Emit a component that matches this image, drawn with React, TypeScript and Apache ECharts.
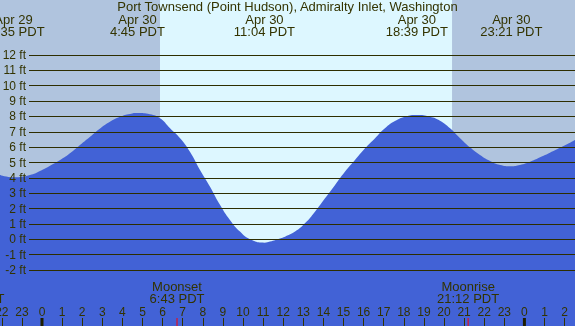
import React, { useEffect, useRef } from "react";
import * as echarts from "echarts";

// Hours relative to Apr 30 00:00 PDT, tide height in feet
const tideHours = [
  -2.09, -1.42, -0.6, -0.1, 0.4, 0.9, 1.39, 1.89, 2.39, 2.89, 3.38, 3.88, 4.38, 4.75,
  5.37, 5.87, 6.37, 6.87, 7.36, 7.86, 8.36, 8.86, 9.35, 9.85, 10.35, 11.07, 11.34,
  11.84, 12.09, 12.59, 13.08, 13.58, 14.08, 14.58, 15.07, 15.57, 16.07, 16.57, 17.06,
  17.56, 18.06, 18.65, 19.3, 19.8, 20.3, 20.8, 21.29, 21.79, 22.29, 22.79, 23.35,
  23.78, 24.28, 24.78, 25.27, 25.77, 26.27, 26.52,
];
const tideFeet = [
  4.19, 4.04, 4.19, 4.45, 4.79, 5.16, 5.6, 6.14, 6.68, 7.22, 7.66, 7.98, 8.16, 8.22,
  8.14, 7.88, 7.23, 6.58, 5.7, 4.51, 3.42, 2.23, 1.26, 0.5, 0.0, -0.22, -0.15,
  0.06, 0.17, 0.5, 1.04, 1.8, 2.67, 3.54, 4.4, 5.16, 5.92, 6.58, 7.23,
  7.7, 7.98, 8.09, 7.98, 7.72, 7.23, 6.58, 5.99, 5.49, 5.1, 4.84, 4.76,
  4.84, 5.05, 5.34, 5.64, 5.96, 6.29, 6.46,
];

const tideEventHours = [-1.4167, 4.75, 11.067, 18.65, 23.35];
const tideEventDates = ["Apr 29", "Apr 30", "Apr 30", "Apr 30", "Apr 30"];
const tideEventTimes = ["22:35 PDT", "4:45 PDT", "11:04 PDT", "18:39 PDT", "23:21 PDT"];

const moonEventHours = [-3.417, 6.717, 21.2];
const moonEventNames = ["Moonrise", "Moonset", "Moonrise"];
const moonEventTimes = ["20:35 PDT", "6:43 PDT", "21:12 PDT"];

const sunriseSunset = [5.87, 20.4];
const midnightHours = [0, 24];

const viewHours = [-2.0896, 26.517];
const viewFeet = [-5.645, 15.58];
const gridFeet = [-2, 12];
const hourTicks = [-2, 26];

const TITLE = "Port Townsend (Point Hudson), Admiralty Inlet, Washington";

const TEXT = "#333300";
const FAMILY = '"Liberation Sans", Arial, sans-serif';
const FONT13 = `13px ${FAMILY}`;

export default function App() {
  const ref = useRef<HTMLDivElement>(null);
  useEffect(() => {
    if (!ref.current) return;
    const chart = echarts.init(ref.current, null, { renderer: "svg" });
    const option: any = {
      animation: false,
      title: {
        text: TITLE,
        left: "center",
        top: 0,
        padding: 0,
        textStyle: {
          fontFamily: FAMILY,
          fontSize: 13,
          fontWeight: "normal",
          color: TEXT,
        },
      },
      grid: [
        {
          left: 0, right: 0, top: 0, bottom: 0, show: true,
          backgroundColor: "#b0c4de", borderWidth: 0, outerBoundsMode: "none",
        },
        { left: 29, right: 0, top: 55, bottom: 56, outerBoundsMode: "none" },
        { left: 1.8, right: 10.4, top: 0, bottom: 0, outerBoundsMode: "none" },
      ],
      xAxis: [
        { type: "value", gridIndex: 0, min: viewHours[0], max: viewHours[1], show: false },
        { type: "value", gridIndex: 1, min: 0, max: 1, show: false },
        {
          type: "value",
          gridIndex: 2,
          min: hourTicks[0],
          max: hourTicks[1],
          interval: 1,
          z: 6,
          axisLine: { show: false },
          splitLine: { show: false },
          axisTick: { show: true, inside: true, length: 8, lineStyle: { color: TEXT, width: 1 } },
          axisLabel: {
            inside: true,
            margin: 8,
            color: TEXT,
            fontSize: 12,
            fontFamily: FAMILY,
            showMinLabel: true,
            showMaxLabel: true,
            hideOverlap: false,
            formatter: (v: number) => String(((v % 24) + 24) % 24),
          },
        },
      ],
      yAxis: [
        { type: "value", gridIndex: 0, min: viewFeet[0], max: viewFeet[1], show: false },
        {
          type: "value",
          gridIndex: 1,
          min: gridFeet[0],
          max: gridFeet[1],
          interval: 1,
          z: 5,
          axisLine: { show: false },
          axisTick: { show: false },
          splitLine: { show: true, lineStyle: { color: "#2e2e00", width: 1 } },
          axisLabel: {
            margin: 3,
            color: TEXT,
            fontSize: 12,
            fontFamily: FAMILY,
            formatter: (v: number) => `${v} ft`,
          },
        },
        { type: "value", gridIndex: 2, min: 0, max: 1, show: false },
      ],
      series: [
        {
          type: "custom",
          xAxisIndex: 0,
          yAxisIndex: 0,
          z: 0,
          data: [[sunriseSunset[0], sunriseSunset[1]]],
          renderItem: (params: any, api: any) => {
            const x1 = api.coord([api.value(0), 0])[0];
            const x2 = api.coord([api.value(1), 0])[0];
            const cs = params.coordSys;
            return {
              type: "rect",
              shape: { x: x1, y: cs.y, width: x2 - x1, height: cs.height },
              style: { fill: "#ddf7ff" },
            };
          },
        },
        {
          type: "line",
          xAxisIndex: 0,
          yAxisIndex: 0,
          z: 2,
          smooth: true,
          showSymbol: false,
          lineStyle: { width: 0 },
          areaStyle: { color: "#4262d6", opacity: 1, origin: "start" },
          data: tideHours.map((h, i) => [h, tideFeet[i]]),
        },
        {
          type: "custom",
          xAxisIndex: 0,
          yAxisIndex: 0,
          z: 8,
          data: tideEventHours.map((h) => [h, 0]),
          renderItem: (params: any, api: any) => {
            const i = params.dataIndex;
            const x = api.coord([api.value(0), 0])[0];
            return {
              type: "text",
              x,
              y: 13,
              style: {
                text: `${tideEventDates[i]}\n${tideEventTimes[i]}`,
                align: "center",
                verticalAlign: "top",
                lineHeight: 12,
                font: FONT13,
                fill: TEXT,
              },
            };
          },
        },
        {
          type: "custom",
          xAxisIndex: 0,
          yAxisIndex: 0,
          z: 8,
          data: moonEventHours.map((h) => [h, 0]),
          renderItem: (params: any, api: any) => {
            const i = params.dataIndex;
            const x = api.coord([api.value(0), 0])[0];
            const cs = params.coordSys;
            return {
              type: "group",
              children: [
                {
                  type: "text",
                  x,
                  y: 280,
                  style: {
                    text: `${moonEventNames[i]}\n${moonEventTimes[i]}`,
                    align: "center",
                    verticalAlign: "top",
                    lineHeight: 12,
                    font: FONT13,
                    fill: TEXT,
                  },
                },
                {
                  type: "rect",
                  shape: { x: x - 0.5, y: cs.y + cs.height - 8, width: 1, height: 8 },
                  style: { fill: "#ff0000" },
                },
              ],
            };
          },
        },
        {
          type: "custom",
          xAxisIndex: 0,
          yAxisIndex: 0,
          z: 9,
          data: midnightHours.map((h) => [h, 0]),
          renderItem: (params: any, api: any) => {
            const x = api.coord([api.value(0), 0])[0];
            const cs = params.coordSys;
            return {
              type: "rect",
              shape: { x: x - 1.5, y: cs.y + cs.height - 8, width: 3, height: 8 },
              style: { fill: "#1e1e00" },
            };
          },
        },
      ],
    };
    chart.setOption(option);
    return () => chart.dispose();
  }, []);
  return (
    <div
      ref={ref}
      style={{ position: "fixed", left: 0, top: 0, width: 575, height: 326 }}
    />
  );
}
